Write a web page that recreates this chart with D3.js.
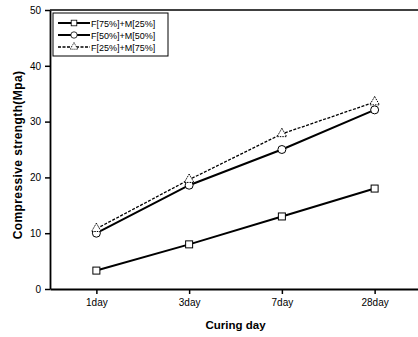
<!DOCTYPE html>
<html>
<head>
<meta charset="utf-8">
<script src="https://cdn.jsdelivr.net/npm/d3@7"></script>
<style>
  html, body { margin: 0; background: #fff; overflow: hidden; }
  svg { display: block; font-family: "Liberation Sans", Arial, sans-serif; }
</style>
</head>
<body>
<div id="chart"></div>
<script>
const days = ["1day", "3day", "7day", "28day"];
const seriesNames = ["F[75%]+M[25%]", "F[50%]+M[50%]", "F[25%]+M[75%]"];
const f75m25 = [3.3, 8.0, 13.0, 18.0];
const f50m50 = [10.0, 18.6, 25.0, 32.1];
const f25m75 = [10.8, 19.6, 27.8, 33.5];
const yTicks = [0, 10, 20, 30, 40, 50];

const series = [
  { name: seriesNames[0], values: f75m25, marker: "square", dash: null, width: 2 },
  { name: seriesNames[1], values: f50m50, marker: "circle", dash: null, width: 2 },
  { name: seriesNames[2], values: f25m75, marker: "triangle", dash: "3,1.5", width: 1.3 }
];

const W = 418, H = 337;
const margin = { top: 10, right: -3, bottom: 48, left: 50 };
const width = W - margin.left - margin.right;
const height = H - margin.top - margin.bottom;

const svg = d3.select("#chart").append("svg")
  .attr("width", W)
  .attr("height", H);

const g = svg.append("g")
  .attr("transform", `translate(${margin.left},${margin.top})`);

const x = d3.scalePoint()
  .domain(days)
  .range([0, width])
  .padding(0.5);

const y = d3.scaleLinear()
  .domain([0, 50])
  .range([height, 0]);

// top frame line
g.append("line")
  .attr("x1", 0).attr("x2", width)
  .attr("y1", 0).attr("y2", 0)
  .attr("stroke", "#000").attr("stroke-width", 1.5);

const xAxis = g.append("g")
  .attr("transform", `translate(0,${height})`)
  .call(d3.axisBottom(x).tickSize(5).tickSizeOuter(0).tickPadding(5));
xAxis.select(".domain").attr("stroke-width", 1.8);
xAxis.selectAll("line").attr("stroke-width", 1.5);
xAxis.selectAll("text").style("font-size", "10px").attr("fill", "#000");

const yAxis = g.append("g")
  .call(d3.axisLeft(y).tickValues(yTicks).tickSize(5).tickSizeOuter(0).tickPadding(4));
yAxis.select(".domain").attr("stroke-width", 1.8);
yAxis.selectAll("line").attr("stroke-width", 1.5);
yAxis.selectAll("text").style("font-size", "10px").attr("fill", "#000");

// axis titles
svg.append("text")
  .attr("x", margin.left + x("3day") + (x("7day") - x("3day")) / 2)
  .attr("y", 329)
  .attr("text-anchor", "middle")
  .style("font-size", "11.5px")
  .style("font-weight", "bold")
  .text("Curing day");

svg.append("text")
  .attr("transform", "translate(22,155) rotate(-90)")
  .attr("text-anchor", "middle")
  .style("font-size", "12px")
  .style("font-weight", "bold")
  .style("letter-spacing", "0.4px")
  .text("Compressive strength(Mpa)");

const line = d3.line()
  .x((d, i) => x(days[i]))
  .y(d => y(d));

function drawMarker(sel, type) {
  if (type === "square") {
    sel.append("rect")
      .attr("x", -3.5).attr("y", -3.5)
      .attr("width", 7).attr("height", 7);
  } else if (type === "circle") {
    sel.append("circle").attr("r", 4);
  } else {
    sel.append("path")
      .attr("d", d3.symbol(d3.symbolTriangle, 40)())
      .attr("stroke-dasharray", "1.5,1");
  }
  sel.selectAll("rect,circle,path")
    .attr("fill", "#fff")
    .attr("stroke", "#000")
    .attr("stroke-width", 1);
}

series.forEach(s => {
  g.append("path")
    .datum(s.values)
    .attr("fill", "none")
    .attr("stroke", "#000")
    .attr("stroke-width", s.width)
    .attr("stroke-dasharray", s.dash)
    .attr("d", line);
});

series.forEach(s => {
  g.selectAll(null)
    .data(s.values)
    .join("g")
    .attr("transform", (d, i) => `translate(${x(days[i])},${y(d)})`)
    .each(function () { drawMarker(d3.select(this), s.marker); });
});

// legend
const legend = g.append("g").attr("transform", "translate(3,3)");
legend.append("rect")
  .attr("width", 115).attr("height", 43)
  .attr("fill", "#fff").attr("stroke", "#000").attr("stroke-width", 1);

series.forEach((s, i) => {
  const row = legend.append("g").attr("transform", `translate(0,${10 + i * 12})`);
  row.append("line")
    .attr("x1", 5).attr("x2", 37)
    .attr("stroke", "#000")
    .attr("stroke-width", s.width)
    .attr("stroke-dasharray", s.dash);
  const m = row.append("g").attr("transform", "translate(21,0) scale(0.8)");
  drawMarker(m, s.marker);
  row.append("text")
    .attr("x", 38).attr("y", 3.5)
    .style("font-size", "9px")
    .text(s.name);
});
</script>
</body>
</html>
